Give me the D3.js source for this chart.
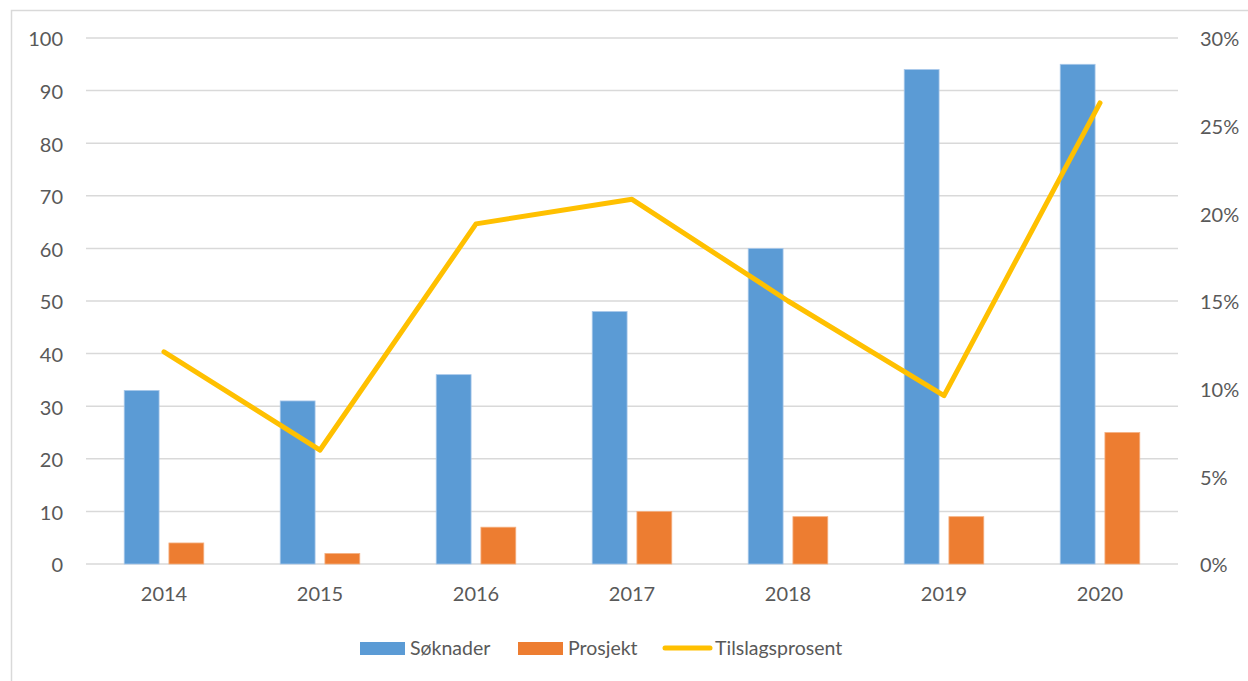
<!DOCTYPE html>
<html>
<head>
<meta charset="utf-8">
<script src="https://cdn.jsdelivr.net/npm/d3@7"></script>
<style>
  body { margin: 0; background: #fff; }
  text { font-family: Lato, "Open Sans", sans-serif; fill: #595959; }
</style>
</head>
<body>
<div id="container"></div>
<script>
// Chart data
var years = ["2014", "2015", "2016", "2017", "2018", "2019", "2020"];
var soknader = [33, 31, 36, 48, 60, 94, 95];
var prosjekt = [4, 2, 7, 10, 9, 9, 25];
var tilslag = [12.1, 6.5, 19.4, 20.8, 15.0, 9.6, 26.3];
var leftTicks = [0, 10, 20, 30, 40, 50, 60, 70, 80, 90, 100];
var rightTicks = [0, 5, 10, 15, 20, 25, 30];

var width = 1248,
    height = 681;

var svg = d3.select("#container")
            .append("svg")
              .attr("width", width)
              .attr("height", height);

// Chart border
svg.append("rect")
    .attr("x", 11.5)
    .attr("y", 10.5)
    .attr("width", 1250)
    .attr("height", 700)
    .attr("fill", "none")
    .attr("stroke", "#d9d9d9")
    .attr("stroke-width", 1.5);

var plotLeft = 86, plotRight = 1178, plotTop = 38, plotBottom = 564;

var x0 = d3.scaleBand()
           .domain(years)
           .range([plotLeft, plotRight])
           .paddingInner(0.49)
           .paddingOuter(0.245);

var x1 = d3.scaleBand()
           .domain(["s", "p"])
           .range([0, x0.bandwidth()])
           .paddingInner(0.22);

var y = d3.scaleLinear().domain([0, 100]).range([plotBottom, plotTop]);
var y2 = d3.scaleLinear().domain([0, 30]).range([plotBottom, plotTop]);

// Gridlines
svg.append("g")
    .selectAll("line")
    .data(leftTicks)
    .enter()
    .append("line")
      .attr("x1", plotLeft)
      .attr("x2", plotRight)
      .attr("y1", function(d) { return y(d); })
      .attr("y2", function(d) { return y(d); })
      .attr("stroke", "#d9d9d9")
      .attr("stroke-width", 1.5);

// Left axis
var leftAxis = svg.append("g")
    .attr("transform", "translate(" + (plotLeft - 23) + ",1.5)")
    .call(d3.axisLeft(y).tickValues(leftTicks).tickSize(0).tickPadding(0));
leftAxis.select(".domain").remove();
leftAxis.selectAll("text").style("font-size", "20px").attr("fill", "#595959");

// Right axis
var rightAxis = svg.append("g")
    .attr("transform", "translate(" + (plotRight + 22) + ",1.5)")
    .call(d3.axisRight(y2).tickValues(rightTicks).tickSize(0).tickPadding(0)
            .tickFormat(function(d) { return d + "%"; }));
rightAxis.select(".domain").remove();
rightAxis.selectAll("text").style("font-size", "20px").attr("fill", "#595959");

// Bottom axis
var bottomAxis = svg.append("g")
    .attr("transform", "translate(0," + (plotBottom + 23) + ")")
    .call(d3.axisBottom(d3.scaleBand().domain(years).range([plotLeft, plotRight])).tickSize(0).tickPadding(0));
bottomAxis.select(".domain").remove();
bottomAxis.selectAll("text").style("font-size", "20px").attr("fill", "#595959");

// Bars
var groups = svg.append("g")
    .selectAll("g")
    .data(years)
    .enter()
    .append("g")
      .attr("transform", function(d) { return "translate(" + x0(d) + ",0)"; });

groups.append("rect")
    .attr("x", x1("s"))
    .attr("y", function(d, i) { return y(soknader[i]); })
    .attr("width", x1.bandwidth())
    .attr("height", function(d, i) { return y(0) - y(soknader[i]); })
    .attr("fill", "#5b9bd5")
    .attr("stroke", "#a9c8ea")
    .attr("stroke-width", 0.8);

groups.append("rect")
    .attr("x", x1("p"))
    .attr("y", function(d, i) { return y(prosjekt[i]); })
    .attr("width", x1.bandwidth())
    .attr("height", function(d, i) { return y(0) - y(prosjekt[i]); })
    .attr("fill", "#ed7d31")
    .attr("stroke", "#f4b183")
    .attr("stroke-width", 0.8);

// Line
var line = d3.line()
    .x(function(d, i) { return x0(years[i]) + x0.bandwidth() / 2; })
    .y(function(d) { return y2(d); });

svg.append("path")
    .datum(tilslag)
    .attr("d", line)
    .attr("fill", "none")
    .attr("stroke", "#ffc000")
    .attr("stroke-width", 5)
    .attr("stroke-linecap", "round")
    .attr("stroke-linejoin", "round");

// Legend
var legend = svg.append("g").attr("transform", "translate(0,648)");

legend.append("rect").attr("x", 360).attr("y", -6).attr("width", 45).attr("height", 13).attr("fill", "#5b9bd5");
legend.append("text").attr("x", 410).attr("dy", "0.37em").style("font-size", "19.5px").text("Søknader");

legend.append("rect").attr("x", 518).attr("y", -6).attr("width", 45).attr("height", 13).attr("fill", "#ed7d31");
legend.append("text").attr("x", 568).attr("dy", "0.37em").style("font-size", "19.5px").text("Prosjekt");

legend.append("line").attr("x1", 665).attr("x2", 710).attr("y1", 0).attr("y2", 0)
    .attr("stroke", "#ffc000").attr("stroke-width", 5).attr("stroke-linecap", "round");
legend.append("text").attr("x", 715).attr("dy", "0.37em").style("font-size", "19.5px").text("Tilslagsprosent");
</script>
</body>
</html>
